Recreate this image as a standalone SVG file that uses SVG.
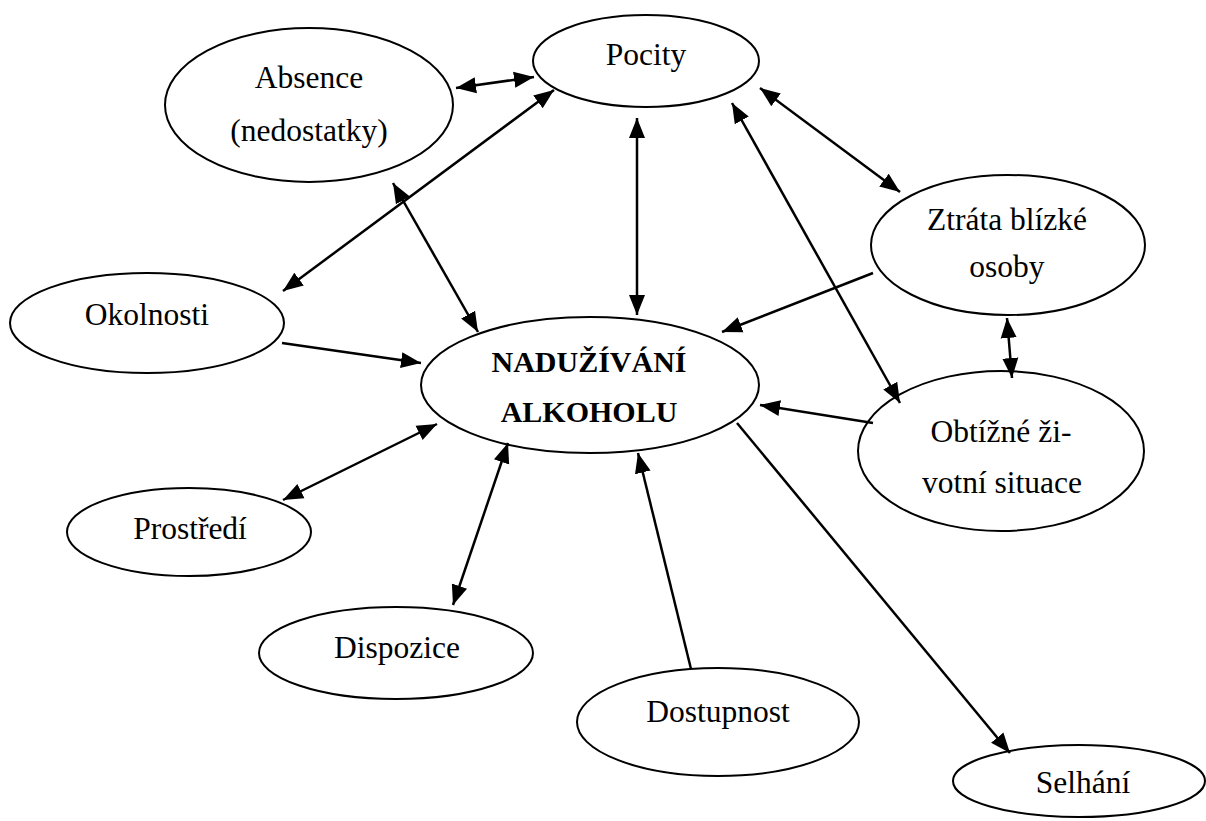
<svg xmlns="http://www.w3.org/2000/svg" width="1206" height="821" viewBox="0 0 1206 821">
  <style>
    .node ellipse { fill: #ffffff; stroke: #000000; stroke-width: 2; }
    .node text { font-family: "Liberation Serif", "Times New Roman", serif; font-size: 31.5px; fill: #000000; text-anchor: middle; }
    .node text.bold { font-weight: bold; font-size: 30px; }
    #connectors line { stroke: #000000; stroke-width: 2.5; fill: none; }
    .uni { marker-end: url(#arrow); }
    .bi { marker-start: url(#arrow); marker-end: url(#arrow); }
  </style>
  <defs>
    <marker id="arrow" markerUnits="userSpaceOnUse" markerWidth="22" markerHeight="18" viewBox="0 0 22 18" refX="20" refY="9" orient="auto-start-reverse">
      <path d="M0,1 L20,9 L0,17 Z" fill="#000000"/>
    </marker>
  </defs>
  <rect x="0" y="0" width="1206" height="821" fill="#ffffff"/>

  <g id="node-pocity" class="node">
    <ellipse cx="646" cy="61" rx="113" ry="46"/>
    <text x="646" y="65">Pocity</text>
  </g>
  <g id="node-absence" class="node">
    <ellipse cx="309" cy="105" rx="144" ry="77"/>
    <text x="309" y="88">Absence</text>
    <text x="309" y="141">(nedostatky)</text>
  </g>
  <g id="node-ztrata" class="node">
    <ellipse cx="1008" cy="245" rx="137" ry="70"/>
    <text x="1007" y="230">Ztráta blízké</text>
    <text x="1007" y="277">osoby</text>
  </g>
  <g id="node-okolnosti" class="node">
    <ellipse cx="147" cy="323" rx="137" ry="50"/>
    <text x="147" y="325">Okolnosti</text>
  </g>
  <g id="node-naduzivani" class="node">
    <ellipse cx="590" cy="385" rx="169" ry="68"/>
    <text class="bold" x="589" y="372">NADUŽÍVÁNÍ</text>
    <text class="bold" x="589" y="422">ALKOHOLU</text>
  </g>
  <g id="node-obtizne" class="node">
    <ellipse cx="1001" cy="451" rx="143" ry="80"/>
    <text x="1001" y="442">Obtížné ži-</text>
    <text x="1002" y="493">votní situace</text>
  </g>
  <g id="node-prostredi" class="node">
    <ellipse cx="189" cy="532" rx="122" ry="44"/>
    <text x="190" y="539">Prostředí</text>
  </g>
  <g id="node-dispozice" class="node">
    <ellipse cx="396" cy="653" rx="137" ry="46"/>
    <text x="397" y="658">Dispozice</text>
  </g>
  <g id="node-dostupnost" class="node">
    <ellipse cx="718" cy="722" rx="141" ry="54"/>
    <text x="718" y="722">Dostupnost</text>
  </g>
  <g id="node-selhani" class="node">
    <ellipse cx="1079" cy="781" rx="126" ry="36"/>
    <text x="1083" y="793">Selhání</text>
  </g>

  <g id="connectors">
    <line class="bi" x1="456" y1="88" x2="534" y2="77"/>
    <line class="bi" x1="283" y1="291" x2="554" y2="90"/>
    <line class="bi" x1="478" y1="332" x2="393" y2="183"/>
    <line class="bi" x1="637" y1="118" x2="637" y2="315"/>
    <line class="bi" x1="760" y1="88" x2="900" y2="192"/>
    <line class="bi" x1="732" y1="103" x2="900" y2="403"/>
    <line class="uni" x1="873" y1="273" x2="722" y2="332"/>
    <line class="bi" x1="1007" y1="318" x2="1012" y2="378"/>
    <line class="uni" x1="282" y1="343" x2="421" y2="363"/>
    <line class="uni" x1="873" y1="423" x2="760" y2="405"/>
    <line class="bi" x1="283" y1="500" x2="437" y2="424"/>
    <line class="bi" x1="453" y1="605" x2="508" y2="443"/>
    <line class="uni" x1="691" y1="669" x2="638" y2="453"/>
    <line class="uni" x1="737" y1="423" x2="1010" y2="753"/>
  </g>
</svg>
